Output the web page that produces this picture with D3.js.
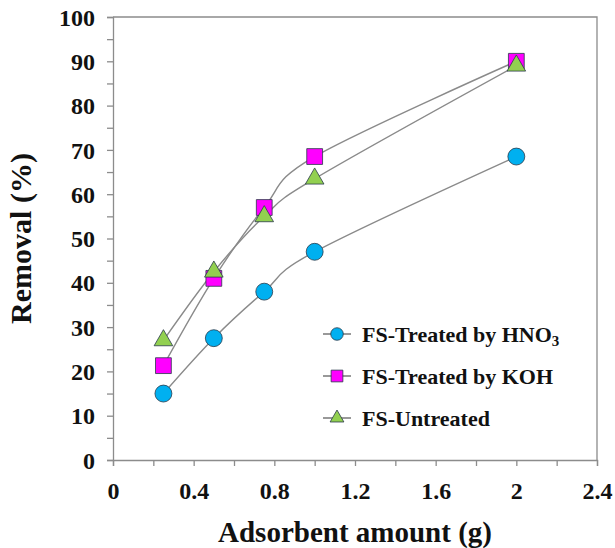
<!DOCTYPE html>
<html>
<head>
<meta charset="utf-8">
<script src="https://cdn.jsdelivr.net/npm/d3@7"></script>
<style>
  body { margin: 0; background: #fff; }
</style>
</head>
<body>
<div id="chart_container"></div>
<script>
// data
const amounts = [0.25, 0.5, 0.75, 1.0, 2.0];
const hno3 = [15, 27.5, 38, 47, 68.5];
const koh = [21.3, 41, 57, 68.5, 90];
const untreated = [27, 42.5, 55, 63.5, 89];
const xTicks = [0, 0.4, 0.8, 1.2, 1.6, 2, 2.4];
const yTicks = [0, 10, 20, 30, 40, 50, 60, 70, 80, 90, 100];

const w = 615;
const h = 548;
const margin = {top: 17, right: 18, bottom: 88, left: 113};
const fontFamily = "'Liberation Serif', 'Times New Roman', Times, serif";

const svg = d3.select("#chart_container").append("svg")
    .attr("width", w)
    .attr("height", h)
    .style("font-family", fontFamily)
    .style("font-weight", "bold");

const xScale = d3.scaleLinear()
    .domain([0, 2.4])
    .range([margin.left, w - margin.right]);

const yScale = d3.scaleLinear()
    .domain([0, 100])
    .range([h - margin.bottom, margin.top]);

const axisColor = "#8c8c8c";

// frame on top and right
svg.append("path")
    .attr("d", "M" + xScale(0) + "," + yScale(100) + "H" + xScale(2.4) + "V" + yScale(0))
    .attr("fill", "none")
    .attr("stroke", axisColor)
    .attr("stroke-width", 1.3);

// x axis, with minor ticks every 0.2
const xAxis = d3.axisBottom(xScale)
    .tickValues(d3.range(0, 2.41, 0.2))
    .tickSize(6)
    .tickFormat(d => xTicks.some(t => Math.abs(t - d) < 1e-6) ? d3.format("~g")(+d.toFixed(1)) : "");

const gx = svg.append("g")
    .attr("transform", "translate(0," + yScale(0) + ")")
    .call(xAxis);

// y axis, with minor ticks every 5
const yAxis = d3.axisLeft(yScale)
    .tickValues(d3.range(0, 101, 5))
    .tickSize(6)
    .tickFormat(d => yTicks.includes(d) ? d : "");

const gy = svg.append("g")
    .attr("transform", "translate(" + xScale(0) + ",0)")
    .call(yAxis);

[gx, gy].forEach(g => {
    g.attr("font-family", null).attr("font-size", null);
    g.select(".domain").attr("stroke", axisColor).attr("stroke-width", 1.3);
    g.selectAll(".tick line").attr("stroke", axisColor).attr("stroke-width", 1.3);
    g.selectAll(".tick text")
        .attr("fill", "#111")
        .style("font-family", fontFamily)
        .style("font-weight", "bold")
        .style("font-size", "24px");
});
gx.selectAll(".tick text").attr("dy", "1.25em");
gy.selectAll(".tick text").attr("x", -18).attr("dy", "0.34em");

// axis titles
svg.append("text")
    .attr("x", xScale(1.2))
    .attr("y", 542)
    .attr("text-anchor", "middle")
    .style("font-family", fontFamily)
    .style("font-size", "29px")
    .attr("fill", "#111")
    .text("Adsorbent amount (g)");

svg.append("text")
    .attr("transform", "translate(31," + yScale(50) + ") rotate(-90)")
    .attr("text-anchor", "middle")
    .style("font-family", fontFamily)
    .style("font-size", "30px")
    .attr("fill", "#111")
    .text("Removal (%)");

// series
const series = [
    {name: "FS-Treated by HNO", sub: "3", values: hno3, shape: d3.symbolCircle, size: 225, fill: "#00b0f0"},
    {name: "FS-Treated by KOH", sub: "", values: koh, shape: d3.symbolSquare, size: 250, fill: "#ff00ff"},
    {name: "FS-Untreated", sub: "", values: untreated, shape: d3.symbolTriangle, size: 150, fill: "#92d050"}
];

const line = d3.line()
    .x((d, i) => xScale(amounts[i]))
    .y(d => yScale(d))
    .curve(d3.curveCardinal);

series.forEach(s => {
    svg.append("path")
        .datum(s.values)
        .attr("d", line)
        .attr("fill", "none")
        .attr("stroke", "#8a8a8a")
        .attr("stroke-width", 1.4);
});

series.forEach(s => {
    svg.selectAll(null)
        .data(s.values)
        .enter()
        .append("path")
        .attr("d", d3.symbol().type(s.shape).size(s.size))
        .attr("transform", (d, i) => "translate(" + xScale(amounts[i]) + "," + yScale(d) + ")")
        .attr("fill", s.fill)
        .attr("stroke", "#2a3a4a")
        .attr("stroke-width", 0.8);
});

// legend
const legend = svg.append("g")
    .attr("transform", "translate(337,334)");

series.forEach((s, i) => {
    const row = legend.append("g").attr("transform", "translate(0," + (i * 42) + ")");
    row.append("line")
        .attr("x1", -14).attr("x2", 14)
        .attr("stroke", "#555")
        .attr("stroke-width", 1.2);
    row.append("path")
        .attr("d", d3.symbol().type(s.shape).size(s.size * 0.55))
        .attr("fill", s.fill)
        .attr("stroke", "#2a3a4a")
        .attr("stroke-width", 0.8);
    const t = row.append("text")
        .attr("x", 25)
        .attr("dy", "0.35em")
        .style("font-family", fontFamily)
        .style("font-size", "22px")
        .attr("fill", "#111")
        .text(s.name);
    if (s.sub) {
        t.append("tspan")
            .attr("dy", "0.3em")
            .style("font-size", "15px")
            .text(s.sub);
    }
});
</script>
</body>
</html>
